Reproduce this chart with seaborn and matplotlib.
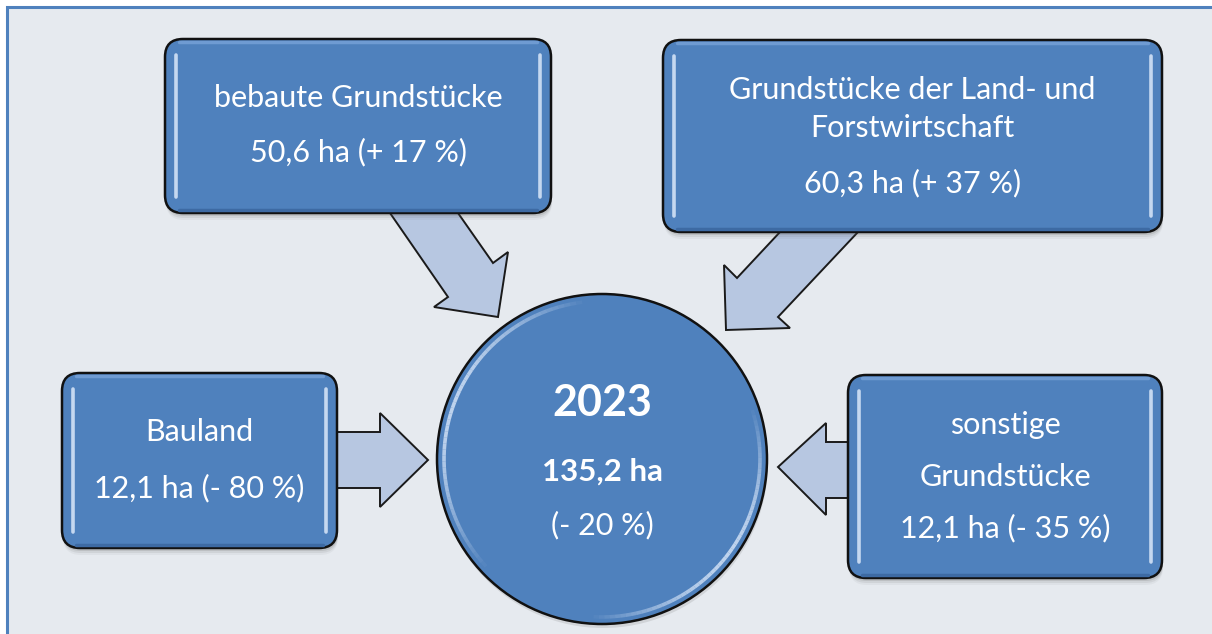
import numpy as np
import matplotlib.pyplot as plt
import seaborn as sns
from matplotlib.patches import FancyBboxPatch, Circle, Polygon, Rectangle

# Werte aus dem Schaubild (Flächenumsatz nach Grundstücksart)
kategorien = ["bebaute Grundstücke",
              "Grundstücke der Land- und\nForstwirtschaft",
              "Bauland",
              "sonstige\nGrundstücke"]
flaeche_ha = [50.6, 60.3, 12.1, 12.1]
veraenderung = [17, 37, -80, -35]
jahr = 2023
gesamt_ha = 135.2
gesamt_veraenderung = -20

sns.set_theme(style="white")
plt.rcParams['font.family'] = ['Lato', 'DejaVu Sans']

blau = "#4F81BD"
pfeil_farbe = "#B7C7E1"
hintergrund = "#E6EAEF"


def fmt_ha(v):
    return f"{v:.1f}".replace(".", ",") + " ha"


def fmt_pct(c):
    return ("+ " if c > 0 else "- ") + f"{abs(c)} %"


# Layout in Pixeln: Kasten (x0, y0, x1, y1), Zeilenpositionen, Pfeil
kaesten = [(165, 39, 551, 213), (663, 40, 1162, 232),
           (62, 373, 337, 548), (848, 375, 1162, 578)]
titel_y = [[98], [90, 128], [432], [425, 477]]
wert_y = [152, 183, 488, 528]
pfeile = [
    [(390, 213), (448, 297), (434, 307), (498, 317), (508, 252), (493, 263), (458, 213)],
    [(780, 232), (737, 278), (724, 265), (726, 330), (790, 328), (778, 317), (858, 232)],
    [(337, 432), (380, 432), (380, 413), (428, 460), (380, 507), (380, 488), (337, 488)],
    [(848, 442), (826, 442), (826, 423), (778, 467), (826, 515), (826, 498), (848, 498)],
]
kreis_mitte = (602, 459)
kreis_r = 165
schrift = 22

fig = plt.figure(figsize=(12.12, 6.34), dpi=100)
fig.patch.set_facecolor("white")
ax = fig.add_axes([0, 0, 1, 1])
ax.set_xlim(0, 1212)
ax.set_ylim(634, 0)
ax.axis("off")

# Rahmen
ax.add_patch(Rectangle((7, 7), 1215, 640, facecolor=hintergrund,
                       edgecolor=blau, lw=2.2, zorder=0))

# Pfeile
for pts in pfeile:
    ax.add_patch(Polygon(pts, closed=True, facecolor=pfeil_farbe,
                         edgecolor="#1a1a1a", lw=1.4, zorder=1))

# Kästen
for i, (x0, y0, x1, y1) in enumerate(kaesten):
    w, h = x1 - x0, y1 - y0
    for d, a in [(7, 0.06), (5, 0.10), (3, 0.16)]:
        ax.add_patch(FancyBboxPatch((x0 + 1, y0 + d), w, h,
                                    boxstyle="round,pad=0,rounding_size=18",
                                    facecolor="#5a5a5a", edgecolor="none",
                                    alpha=a, zorder=2))
    ax.add_patch(FancyBboxPatch((x0, y0), w, h,
                                boxstyle="round,pad=0,rounding_size=18",
                                facecolor=blau, edgecolor="#111111",
                                lw=1.8, zorder=3))
    ax.plot([x0 + 14, x1 - 14], [y0 + 3, y0 + 3], color="#6f9bd2", lw=2.5,
            solid_capstyle="round", zorder=4)
    ax.plot([x0 + 14, x1 - 14], [y1 - 3, y1 - 3], color="#3d6aa3", lw=2.5,
            solid_capstyle="round", zorder=4)
    for xx in (x0 + 11, x1 - 11):
        ax.plot([xx, xx], [y0 + 16, y1 - 16], color="#dbe8fa", lw=2.6,
                alpha=0.85, solid_capstyle="round", zorder=4)
    cx = (x0 + x1) / 2
    for zeile, yy in zip(kategorien[i].split("\n"), titel_y[i]):
        ax.text(cx, yy, zeile, ha="center", va="center", color="white",
                fontsize=schrift, zorder=5)
    ax.text(cx, wert_y[i], f"{fmt_ha(flaeche_ha[i])} ({fmt_pct(veraenderung[i])})",
            ha="center", va="center", color="white", fontsize=schrift, zorder=5)

# Kreis in der Mitte
cx, cy = kreis_mitte
ax.add_patch(Circle((cx + 1, cy + 4), kreis_r, facecolor="#5a5a5a",
                    edgecolor="none", alpha=0.15, zorder=2))
ax.add_patch(Circle((cx, cy), kreis_r, facecolor=blau, edgecolor="#111111",
                    lw=1.8, zorder=3))
# weiche Glanzlinien am Rand
for a0, a1 in [(95, 225), (-95, 20)]:
    t = np.radians(np.linspace(a0, a1, 60))
    rr = kreis_r - 7
    xs, ys = cx + rr * np.cos(t), cy - rr * np.sin(t)
    gewicht = np.sin(np.linspace(0, np.pi, len(t) - 1))
    for k in range(len(t) - 1):
        ax.plot(xs[k:k + 2], ys[k:k + 2], color="#dbe8fa", lw=2.6,
                alpha=0.8 * gewicht[k], solid_capstyle="butt", zorder=4)

ax.text(cx, 403, str(jahr), ha="center", va="center", color="white",
        fontsize=31, fontweight="bold", zorder=5)
ax.text(cx, 472, fmt_ha(gesamt_ha), ha="center", va="center", color="white",
        fontsize=22.5, fontweight="bold", zorder=5)
ax.text(cx, 525, f"({fmt_pct(gesamt_veraenderung)})", ha="center",
        va="center", color="white", fontsize=schrift, zorder=5)

fig.savefig("out.png", dpi=100, facecolor="white")
